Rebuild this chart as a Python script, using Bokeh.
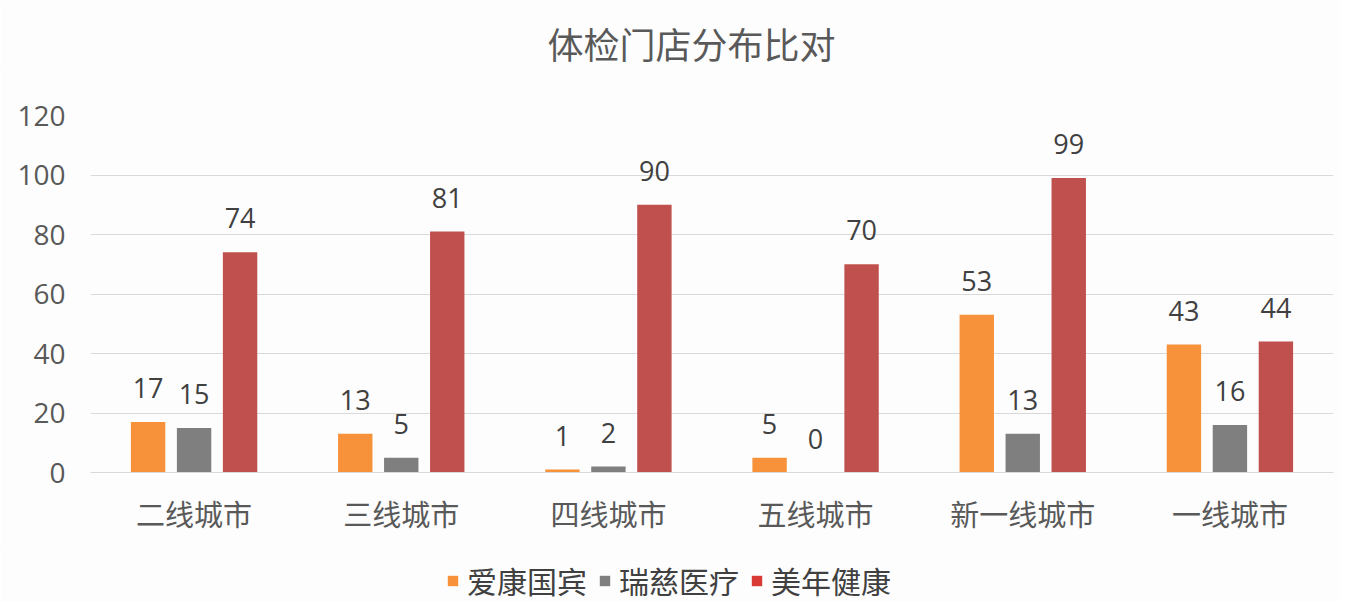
from bokeh.core.properties import value
from bokeh.embed import file_html
from bokeh.layouts import column
from bokeh.models import ColumnDataSource, FactorRange, Label, Legend, LegendItem, Range1d
from bokeh.plotting import figure
from bokeh.resources import INLINE
from bokeh.transform import dodge

title = "体检门店分布比对"
cities = ["二线城市", "三线城市", "四线城市", "五线城市", "新一线城市", "一线城市"]
series = ["爱康国宾", "瑞慈医疗", "美年健康"]
aikang = [17, 13, 1, 5, 53, 43]
ruici = [15, 5, 2, 0, 13, 16]
meinian = [74, 81, 90, 70, 99, 44]
y_ticks = [0, 20, 40, 60, 80, 100, 120]

colors = ["#F7923A", "#7F7F7F", "#C0504D"]
legend_colors = ["#F7923A", "#7F7F7F", "#D93A36"]
offsets = [-0.222, 0.0, 0.222]
font = "Noto Sans CJK SC"
bg = "#FDFDFD"


def strip(height, **kw):
    """Blank full-width figure used for the title and legend rows."""
    f = figure(
        width=1340,
        height=height,
        output_backend="svg",
        toolbar_location=None,
        x_axis_type=None,
        y_axis_type=None,
        min_border=0,
        background_fill_color=bg,
        border_fill_color=bg,
        outline_line_color=None,
        **kw,
    )
    f.xgrid.grid_line_color = None
    f.ygrid.grid_line_color = None
    return f


# title row
head = strip(70, x_range=Range1d(0, 1340), y_range=Range1d(0, 70))
head.add_layout(Label(
    x=648, y=28, text=title,
    text_font=font, text_font_size="36px", text_color="#595959",
    text_align="center", text_baseline="middle",
))

p = figure(
    x_range=FactorRange(factors=cities, range_padding=0),
    y_range=Range1d(0, 120),
    width=1340,
    height=476,
    output_backend="svg",
    toolbar_location=None,
    min_border_left=90,
    min_border_right=7,
    min_border_top=45,
    min_border_bottom=74,
    background_fill_color=bg,
    border_fill_color=bg,
    outline_line_color=None,
)

for vals, color, off in zip([aikang, ruici, meinian], colors, offsets):
    src = ColumnDataSource(data=dict(city=cities, v=vals, label=[str(v) for v in vals]))
    p.vbar(x=dodge("city", off, range=p.x_range), top="v", width=0.166, source=src,
           fill_color=color, line_color=None)
    p.text(x=dodge("city", off, range=p.x_range), y="v", text="label", source=src,
           text_font=value("Open Sans"), text_font_size="27px", text_color="#404040",
           text_align="center", text_baseline="bottom", y_offset=-24)

p.xgrid.grid_line_color = None
p.ygrid.grid_line_color = "#D9D9D9"
p.ygrid.grid_line_width = 1.2

p.yaxis.ticker = y_ticks
p.yaxis.axis_line_color = None
p.yaxis.major_tick_line_color = None
p.yaxis.major_tick_out = 0
p.yaxis.minor_tick_line_color = None
p.yaxis.major_label_text_font = "Open Sans"
p.yaxis.major_label_text_font_size = "28px"
p.yaxis.major_label_text_color = "#595959"
p.yaxis.major_label_standoff = 25

p.xaxis.axis_line_color = "#D9D9D9"
p.xaxis.axis_line_width = 1.2
p.xaxis.major_tick_line_color = None
p.xaxis.major_tick_out = 0
p.xaxis.minor_tick_line_color = None
p.xaxis.major_label_text_font = font
p.xaxis.major_label_text_font_size = "29px"
p.xaxis.major_label_text_color = "#595959"
p.xaxis.major_label_standoff = 19

# legend row
leg = strip(56, x_range=p.x_range, y_range=Range1d(0, 1))
items = []
for name, vals, lcolor, off in zip(series, [aikang, ruici, meinian], legend_colors, offsets):
    src = ColumnDataSource(data=dict(city=cities, v=vals))
    r = leg.vbar(x=dodge("city", off, range=leg.x_range), top="v", width=0.166, source=src,
                 fill_color=lcolor, line_color=None, visible=False)
    items.append(LegendItem(label=name, renderers=[r]))

legend = Legend(
    items=items,
    orientation="horizontal",
    location=(356, 0),
    label_text_font=font,
    label_text_font_size="30px",
    label_text_color="#404040",
    glyph_width=13,
    glyph_height=13,
    spacing=11,
    label_standoff=8,
    padding=0,
    margin=0,
    background_fill_alpha=0,
    border_line_color=None,
)
leg.add_layout(legend)

layout = column(head, p, leg, spacing=0)
open("out.html", "w").write(file_html(layout, INLINE))
